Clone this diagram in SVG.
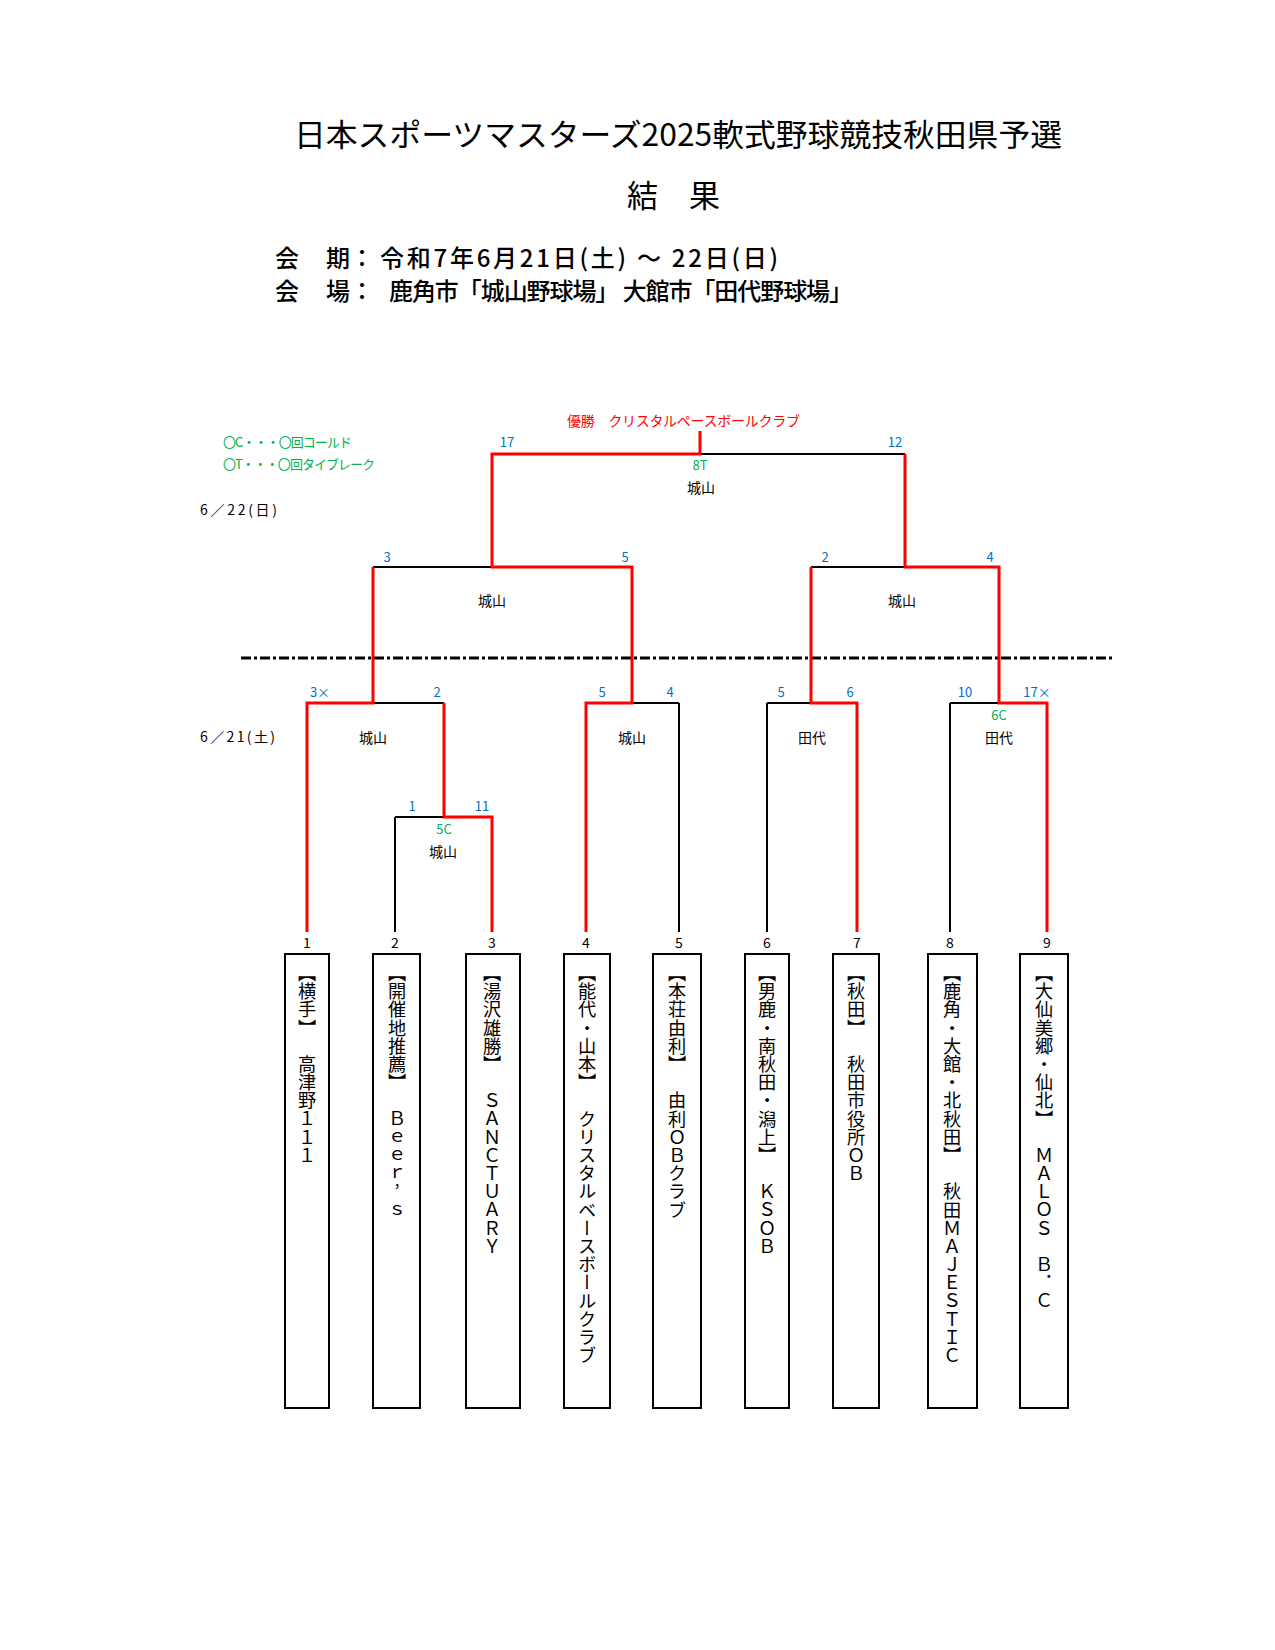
<svg xmlns="http://www.w3.org/2000/svg" width="1275" height="1650" viewBox="0 0 1275 1650">
<style>
text{font-family:"Noto Sans CJK JP","Noto Sans",sans-serif;text-spacing-trim:space-all;}
.title{font-size:31px;font-weight:400;fill:#000;}
.head{font-size:24px;font-weight:500;fill:#000;}
.legend{font-size:13px;fill:#00B050;}
.win{font-size:14px;fill:#FF0000;}
.date{font-size:14px;fill:#000;}
.sc{font-size:13px;fill:#0070C0;text-anchor:middle;}
.gr{font-size:13px;fill:#00B050;text-anchor:middle;}
.venue{font-size:14px;fill:#000;text-anchor:middle;}
.num{font-size:14px;fill:#000;text-anchor:middle;}
.team{font-size:18.2px;fill:#000;writing-mode:vertical-rl;text-orientation:upright;text-spacing-trim:space-all;}
.box{fill:#fff;stroke:#000;stroke-width:2;}
.blk{fill:none;stroke:#000;stroke-width:2;}
.red{fill:none;stroke:#FF0000;stroke-width:3;stroke-linejoin:miter;}
.dd{fill:none;stroke:#000;stroke-width:3;stroke-dasharray:10 3 3 3;}
</style>
<rect width="1275" height="1650" fill="#fff"/>

<g id="header">
<text class="title" x="294" y="146" textLength="768" lengthAdjust="spacingAndGlyphs">日本スポーツマスターズ2025軟式野球競技秋田県予選</text>
<text class="title" x="627" y="207" font-weight="700">結　果</text>
<text class="head" x="275" y="267">会</text>
<text class="head" x="326" y="267">期：</text>
<text class="head" x="380" y="267" textLength="398">令和7年6月21日(土) ～ 22日(日)</text>
<text class="head" x="275" y="300">会</text>
<text class="head" x="326" y="300">場：</text>
<text class="head" x="389" y="300" textLength="464">鹿角市「城山野球場」 大館市「田代野球場」</text>
</g>

<g id="legend">
<text class="legend" x="223" y="447" textLength="129">〇C・・・〇回コールド</text>
<text class="legend" x="223" y="469" textLength="152">〇T・・・〇回タイブレーク</text>
<text class="date" x="200" y="515" textLength="77">6／22(日)</text>
<text class="date" x="200" y="742" textLength="75">6／21(土)</text>
</g>

<g id="champion">
<text class="win" x="567" y="426" textLength="233">優勝　クリスタルペースボールクラブ</text>
</g>

<g id="connectors">
<line class="dd" x1="241" y1="658" x2="1112" y2="658"/>
<path class="blk" d="M700 454H905 M373 567H492 M811 567H905 M373 703H444 M632 703H679 M767 703H811 M950 703H999 M395 817H444 M395 817V932 M679 703V932 M767 703V932 M950 703V932"/>
<path class="red" d="M586 932V703H632V567H492V454H700V431"/>
<path class="red" d="M492 932V817H444V703"/>
<path class="red" d="M307 932V703H373V567"/>
<path class="red" d="M1047 932V703H999V567H905V454"/>
<path class="red" d="M857 932V703H811V567"/>
</g>

<g id="scores">
<text class="sc" x="507" y="447">17</text>
<text class="sc" x="895" y="447">12</text>
<text class="gr" x="700" y="470">8T</text>
<text class="venue" x="701" y="493">城山</text>

<text class="sc" x="387" y="562">3</text>
<text class="sc" x="625" y="562">5</text>
<text class="sc" x="825" y="562">2</text>
<text class="sc" x="990" y="562">4</text>
<text class="venue" x="492" y="606">城山</text>
<text class="venue" x="902" y="606">城山</text>

<text class="sc" x="320" y="697">3×</text>
<text class="sc" x="437" y="697">2</text>
<text class="sc" x="602" y="697">5</text>
<text class="sc" x="670" y="697">4</text>
<text class="sc" x="781" y="697">5</text>
<text class="sc" x="850" y="697">6</text>
<text class="sc" x="965" y="697">10</text>
<text class="sc" x="1037" y="697">17×</text>
<text class="gr" x="999" y="720">6C</text>
<text class="venue" x="373" y="743">城山</text>
<text class="venue" x="632" y="743">城山</text>
<text class="venue" x="812" y="743">田代</text>
<text class="venue" x="999" y="743">田代</text>

<text class="sc" x="412" y="811">1</text>
<text class="sc" x="482" y="811">11</text>
<text class="gr" x="444" y="834">5C</text>
<text class="venue" x="443" y="857">城山</text>
</g>

<g id="team1">
<text class="num" x="307" y="948">1</text>
<rect class="box" x="285" y="954" width="44" height="454"/>
<text class="team" x="307" y="964">【横手】　高津野１１１</text>
</g>
<g id="team2">
<text class="num" x="395" y="948">2</text>
<rect class="box" x="373" y="954" width="47" height="454"/>
<text class="team" x="397" y="964">【開催地推薦】　Ｂｅｅｒ’ｓ</text>
</g>
<g id="team3">
<text class="num" x="492" y="948">3</text>
<rect class="box" x="466" y="954" width="54" height="454"/>
<text class="team" x="492" y="964">【湯沢雄勝】　ＳＡＮＣＴＵＡＲＹ</text>
</g>
<g id="team4">
<text class="num" x="586" y="948">4</text>
<rect class="box" x="564" y="954" width="46" height="454"/>
<text class="team" x="587" y="964">【能代・山本】　クリスタルベースボールクラブ</text>
</g>
<g id="team5">
<text class="num" x="679" y="948">5</text>
<rect class="box" x="653" y="954" width="48" height="454"/>
<text class="team" x="677" y="964">【本荘由利】　由利ＯＢクラブ</text>
</g>
<g id="team6">
<text class="num" x="767" y="948">6</text>
<rect class="box" x="745" y="954" width="44" height="454"/>
<text class="team" x="767" y="964">【男鹿・南秋田・潟上】　ＫＳＯＢ</text>
</g>
<g id="team7">
<text class="num" x="857" y="948">7</text>
<rect class="box" x="833" y="954" width="46" height="454"/>
<text class="team" x="856" y="964">【秋田】　秋田市役所ＯＢ</text>
</g>
<g id="team8">
<text class="num" x="950" y="948">8</text>
<rect class="box" x="928" y="954" width="49" height="454"/>
<text class="team" x="952" y="964">【鹿角・大館・北秋田】　秋田ＭＡＪＥＳＴＩＣ</text>
</g>
<g id="team9">
<text class="num" x="1047" y="948">9</text>
<rect class="box" x="1020" y="954" width="48" height="454"/>
<text class="team" x="1044" y="964">【大仙美郷・仙北】　ＭＡＬＯＳ　Ｂ．Ｃ</text>
</g>
</svg>
